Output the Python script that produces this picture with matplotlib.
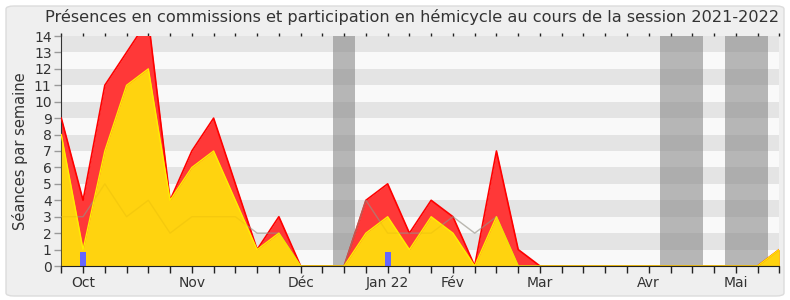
import matplotlib
matplotlib.use("Agg")
import matplotlib.pyplot as plt
from matplotlib.patches import FancyBboxPatch
import numpy as np

# ---- data ----
weeks = list(range(34))
total = [9, 4, 11, 13, 15, 4, 7, 9, 5, 1, 3, 0, 0, 0, 4, 5, 2, 4, 3, 0, 7, 1,
         0, 0, 0, 0, 0, 0, 0, 0, 0, 0, 0, 1]
hemicycle = [8, 1, 7, 11, 12, 4, 6, 7, 4, 1, 2, 0, 0, 0, 2, 3, 1, 3, 2, 0, 3, 0,
             0, 0, 0, 0, 0, 0, 0, 0, 0, 0, 0, 1]
median = [3, 3, 5, 3, 4, 2, 3, 3, 3, 2, 2, 0, 0, 0, 4, 2, 2, 2, 3, 2, 3, 0,
          0, 0, 0, 0, 0, 0, 0, 0, 0, 0, 0, 0]
questions_weeks = [1, 15]
questions_vals = [0.85, 0.85]
vacances = [(12.5, 13.5), (27.5, 29.5), (30.5, 32.5)]
month_weeks = [1, 6, 11, 15, 18, 22, 27, 31]
month_labels = ["Oct", "Nov", "Déc", "Jan 22", "Fév", "Mar", "Avr", "Mai"]
yticks = list(range(15))
title = "Présences en commissions et participation en hémicycle au cours de la session 2021-2022"
ylabel = "Séances par semaine"

# ---- figure ----
fig = plt.figure(figsize=(7.9, 3.0), dpi=100, facecolor="white")
bg = FancyBboxPatch((6 / 790, 4 / 300), 778 / 790, 290 / 300,
                    boxstyle="round,pad=0,rounding_size=0.01",
                    transform=fig.transFigure, facecolor="#efefef",
                    edgecolor="#dcdcdc", linewidth=1.0, zorder=-10)
fig.patches.append(bg)

ax = fig.add_axes([61.3 / 790, 34 / 300, 718 / 790, 230 / 300])
ax.set_facecolor("#f9f9f9")
for lo in range(1, 14, 2):
    ax.axhspan(lo, lo + 1, color="#e4e4e4", lw=0, zorder=0)
for a, b in vacances:
    ax.axvspan(a, b, color="#808080", alpha=0.55, lw=0, zorder=1)

ax.fill_between(weeks, 0, total, color="#ff3838", lw=0, zorder=2)
ax.plot(weeks, total, color="#ff0000", lw=1.2, zorder=3)
ax.plot(weeks, median, color="#999999", lw=1.0, alpha=0.6, zorder=3.5)
ax.fill_between(weeks, 0, hemicycle, color="#ffd30f", lw=0, zorder=4)
ax.plot(weeks, hemicycle, color="#ffee00", lw=1.0, zorder=5)
ax.plot(weeks, median, color="#806000", lw=1.0, alpha=0.08, zorder=5.5)
ax.bar(questions_weeks, questions_vals, width=0.27, color="#6666ff", lw=0, zorder=7)

ax.set_xlim(0, 33)
ax.set_ylim(0, 14)
ax.set_yticks(yticks)
ax.set_yticklabels([str(v) for v in yticks], fontsize=10, color="#333333")
ax.set_xticks(weeks)
labels = [""] * len(weeks)
for w, l in zip(month_weeks, month_labels):
    labels[w] = l
ax.set_xticklabels(labels, fontsize=10, color="#333333")
ax.tick_params(axis="x", length=5, width=1, color="#222222", pad=2,
               top=True)
ax.tick_params(axis="x", which="major", direction="out")
ax.tick_params(axis="y", length=5, width=1, color="#999999", pad=2)
for t in ax.xaxis.get_major_ticks():
    t.tick2line.set_markersize(2)
    t.tick2line.set_color("#222222")
for s in ["top", "right"]:
    ax.spines[s].set_visible(False)
ax.spines["left"].set_color("#333333")
ax.spines["bottom"].set_color("#222222")
ax.spines["bottom"].set_zorder(8)

ax.set_ylabel(ylabel, fontsize=10.5, color="#333333", labelpad=4)
fig.text(412 / 790, 1 - 17 / 300, title, ha="center", va="center",
         fontsize=11.6, color="#333333")

fig.savefig("out.png", dpi=100, facecolor=fig.get_facecolor())
